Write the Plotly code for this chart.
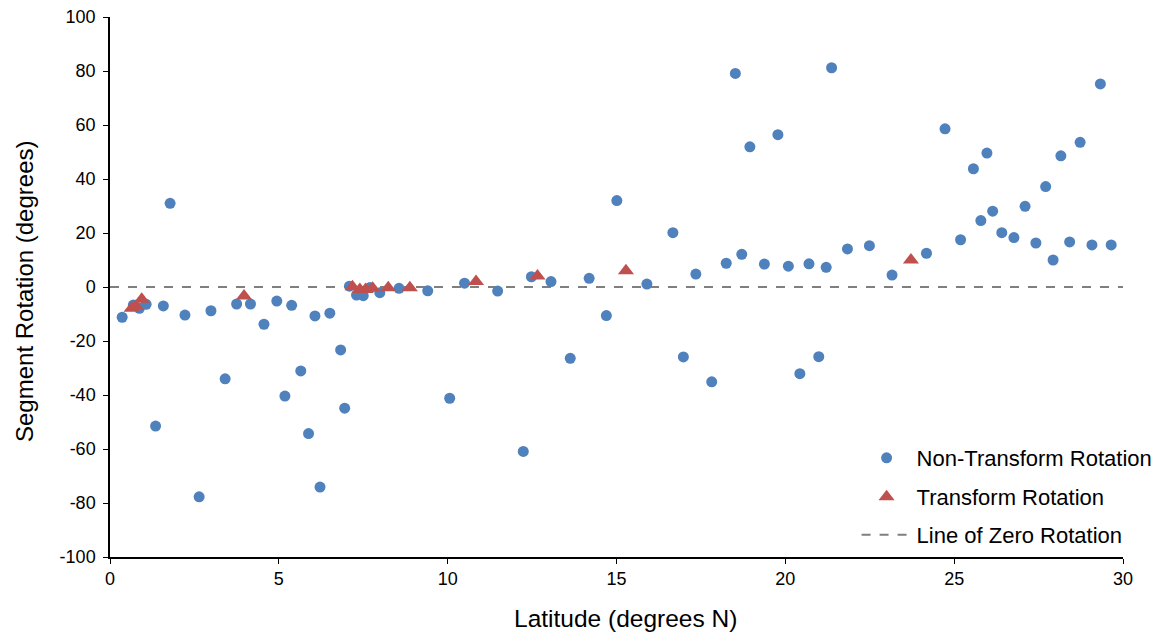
import plotly.graph_objects as go

# Non-transform rotation (latitude, rotation)
nt_lat = [0.36, 0.69, 0.87, 1.07, 1.35, 1.58, 1.78, 2.22, 2.64, 2.99, 3.41, 3.75, 4.16, 4.56,
          4.94, 5.18, 5.38, 5.65, 5.88, 6.07, 6.22, 6.51, 6.83, 6.95, 7.09, 7.30, 7.50, 7.70,
          7.99, 8.56, 9.41, 10.06, 10.50, 11.48, 12.24, 12.48, 13.06, 13.63, 14.19, 14.70,
          15.01, 15.90, 16.67, 16.98, 17.35, 17.82, 18.25, 18.52, 18.71, 18.95, 19.38, 19.78,
          20.09, 20.43, 20.70, 20.99, 21.21, 21.37, 21.84, 22.49, 23.16, 24.18, 24.73, 25.19,
          25.57, 25.79, 25.97, 26.14, 26.41, 26.77, 27.10, 27.42, 27.71, 27.93, 28.16, 28.42,
          28.73, 29.08, 29.33, 29.65]
nt_rot = [-11.2, -6.7, -7.9, -6.4, -51.5, -7.0, 31.0, -10.4, -77.7, -8.8, -34.0, -6.3, -6.3, -13.8,
          -5.2, -40.4, -6.8, -31.1, -54.3, -10.7, -74.1, -9.7, -23.3, -44.9, 0.3, -3.0, -3.2, -0.2,
          -2.1, -0.5, -1.4, -41.2, 1.4, -1.5, -60.9, 3.8, 2.0, -26.4, 3.2, -10.6,
          32.0, 1.1, 20.1, -25.9, 4.8, -35.1, 8.8, 79.1, 12.1, 51.9, 8.5, 56.4,
          7.7, -32.1, 8.6, -25.8, 7.3, 81.2, 14.1, 15.3, 4.4, 12.5, 58.6, 17.5,
          43.8, 24.6, 49.6, 28.1, 20.1, 18.3, 29.9, 16.3, 37.2, 10.0, 48.6, 16.7,
          53.6, 15.6, 75.2, 15.6]

# Transform rotation
tr_lat = [0.64, 0.77, 0.94, 3.97, 7.18, 7.40, 7.57, 7.78, 8.24, 8.88, 10.84, 12.66, 15.28, 23.72]
tr_rot = [-7.9, -7.1, -4.5, -3.3, 0.1, -0.9, -0.9, -0.5, -0.3, -0.3, 2.0, 4.1, 6.0, 10.0]

# Line of zero rotation
zero_x = [0, 30]
zero_y = [0, 0]

# Tick labels
x_ticks = [0, 5, 10, 15, 20, 25, 30]
x_tick_labels = ["0", "5", "10", "15", "20", "25", "30"]
y_ticks = [-100, -80, -60, -40, -20, 0, 20, 40, 60, 80, 100]
y_tick_labels = ["-100", "-80", "-60", "-40", "-20", "0", "20", "40", "60", "80", "100"]

FONT = "Arial, Liberation Sans, sans-serif"

fig = go.Figure()
fig.add_trace(go.Scatter(x=zero_x, y=zero_y, mode="lines", name="Line of Zero Rotation",
                         line=dict(color="#7F7F7F", width=2, dash="dash"), legend="legend3",
                         showlegend=True))
fig.add_trace(go.Scatter(x=nt_lat, y=nt_rot, mode="markers", name="Non-Transform Rotation",
                         marker=dict(color="#4F81BD", size=11, symbol="circle"),
                         cliponaxis=False, legend="legend", showlegend=True))
fig.add_trace(go.Scatter(x=tr_lat, y=tr_rot, mode="markers", name="Transform Rotation",
                         marker=dict(color="#C0504D", size=14, symbol="triangle-up"),
                         cliponaxis=False, legend="legend2", showlegend=True))

leg_common = dict(font=dict(family=FONT, size=22, color="#000"), bgcolor="rgba(0,0,0,0)",
                  xanchor="left", yanchor="middle", borderwidth=0, itemwidth=50)
LX = 0.737
fig.update_layout(
    width=1166, height=634,
    showlegend=True,
    margin=dict(l=110, r=43, t=17, b=77, autoexpand=False),
    plot_bgcolor="white", paper_bgcolor="white",
    font=dict(family=FONT, color="#000"),
    legend=dict(x=LX, y=(557 - 458) / 540, **leg_common),
    legend2=dict(x=LX, y=(557 - 497) / 540, **leg_common),
    legend3=dict(x=LX, y=(557 - 535) / 540, **leg_common),
    xaxis=dict(range=[0, 30], tickmode="array", tickvals=x_ticks, ticktext=x_tick_labels,
               showgrid=False, zeroline=False, automargin=False,
               showline=True, linecolor="#000", linewidth=1.5, ticks="outside", ticklen=5,
               tickcolor="#000", tickfont=dict(size=18, family=FONT)),
    yaxis=dict(range=[-100, 100], tickmode="array", tickvals=y_ticks, ticktext=y_tick_labels,
               showgrid=False, zeroline=False, automargin=False,
               showline=True, linecolor="#000", linewidth=1.5, ticks="outside", ticklen=5,
               tickcolor="#000", tickfont=dict(size=18, family=FONT), ticklabelstandoff=4),
    annotations=[
        dict(text="Latitude (degrees N)", xref="paper", yref="paper",
             x=(625 - 110) / 1013, y=(557 - 618) / 540, xanchor="center", yanchor="middle",
             showarrow=False, font=dict(size=24.5, family=FONT, color="#000")),
        dict(text="Segment Rotation (degrees)", xref="paper", yref="paper",
             x=(24 - 110) / 1013, y=(557 - 291) / 540, xanchor="center", yanchor="middle",
             textangle=-90, showarrow=False, font=dict(size=24, family=FONT, color="#000")),
    ],
)

fig.write_html("out.html")
